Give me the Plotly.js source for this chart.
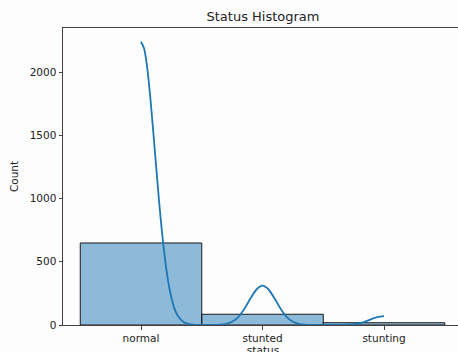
<!DOCTYPE html>
<html>
<head>
<meta charset="utf-8">
<script src="https://cdn.plot.ly/plotly-3.0.1.min.js"></script>
<style>
html,body{margin:0;padding:0;overflow:hidden;background:#fdfdfe;width:458px;height:352px;}
#chart{width:470px;height:362px;}
</style>
</head>
<body>
<div id="chart"></div>
<script>
// Categories and bar counts
const categories = ["normal", "stunted", "stunting"];
const counts = [649, 85, 18];
const categoryIndex = [0, 1, 2];

// KDE curve (x in category units, y in counts)
const kdeX = [0, 0.025, 0.05, 0.075, 0.1, 0.125, 0.15, 0.175, 0.2, 0.225, 0.25, 0.275, 0.3, 0.35, 0.4, 0.45, 0.5, 0.6,
              0.65, 0.7, 0.75, 0.8, 0.85, 0.9, 0.95, 1.0,
              1.05, 1.1, 1.15, 1.2, 1.25, 1.3, 1.35, 1.4, 1.5, 1.6, 1.7, 1.75, 1.8, 1.85, 1.9, 1.95, 2.0];
const kdeY = [2241, 2189, 2045, 1816, 1540, 1249, 965, 713, 502, 337, 216, 132, 77, 23, 6, 1, 0, 0,
              2, 9, 26, 63, 127, 209, 281, 311,
              281, 209, 127, 63, 26, 9, 2, 0, 0, 0, 2, 6, 14, 29, 48, 64, 71];

const yTicks = [0, 500, 1000, 1500, 2000];

const spine = "#4a3f3e";
const font = {family: "DejaVu Sans, sans-serif", size: 10.5, color: "#222"};

const bars = {
  type: "bar",
  x: categoryIndex,
  y: counts,
  width: 1,
  marker: {color: "rgba(31,119,180,0.5)", line: {color: "#1a1a1a", width: 1}},
  hoverinfo: "skip"
};
const kde = {
  type: "scatter",
  mode: "lines",
  x: kdeX,
  y: kdeY,
  line: {color: "#1f77b4", width: 1.8, shape: "spline", smoothing: 0.6},
  hoverinfo: "skip"
};

Plotly.newPlot("chart", [bars, kde], {
  width: 470, height: 362,
  margin: {l: 63, r: 7, t: 28, b: 37},
  paper_bgcolor: "#fdfdfe",
  plot_bgcolor: "#fdfdfe",
  showlegend: false,
  bargap: 0,
  font: font,
  title: {text: "Status Histogram", font: {family: "DejaVu Sans, sans-serif", size: 13, color: "#222"}, x: 0.5, xref: "paper", y: 0.955, yref: "container", yanchor: "middle"},
  xaxis: {
    range: [-0.642, 2.65],
    tickmode: "array", tickvals: categoryIndex, ticktext: categories,
    ticks: "outside", ticklen: 3.5, tickcolor: spine, tickwidth: 1,
    showline: true, linecolor: spine, linewidth: 1, mirror: true,
    showgrid: false, zeroline: false,
    title: {text: "status", font: font, standoff: 3}
  },
  yaxis: {
    range: [0, 2350],
    tickmode: "array", tickvals: yTicks,
    ticks: "outside", ticklen: 3.5, tickcolor: spine, tickwidth: 1,
    showline: true, linecolor: spine, linewidth: 1, mirror: true,
    showgrid: false, zeroline: false,
    title: {text: "Count", font: font, standoff: 8}
  }
}, {staticPlot: true, displayModeBar: false});
</script>
</body>
</html>
